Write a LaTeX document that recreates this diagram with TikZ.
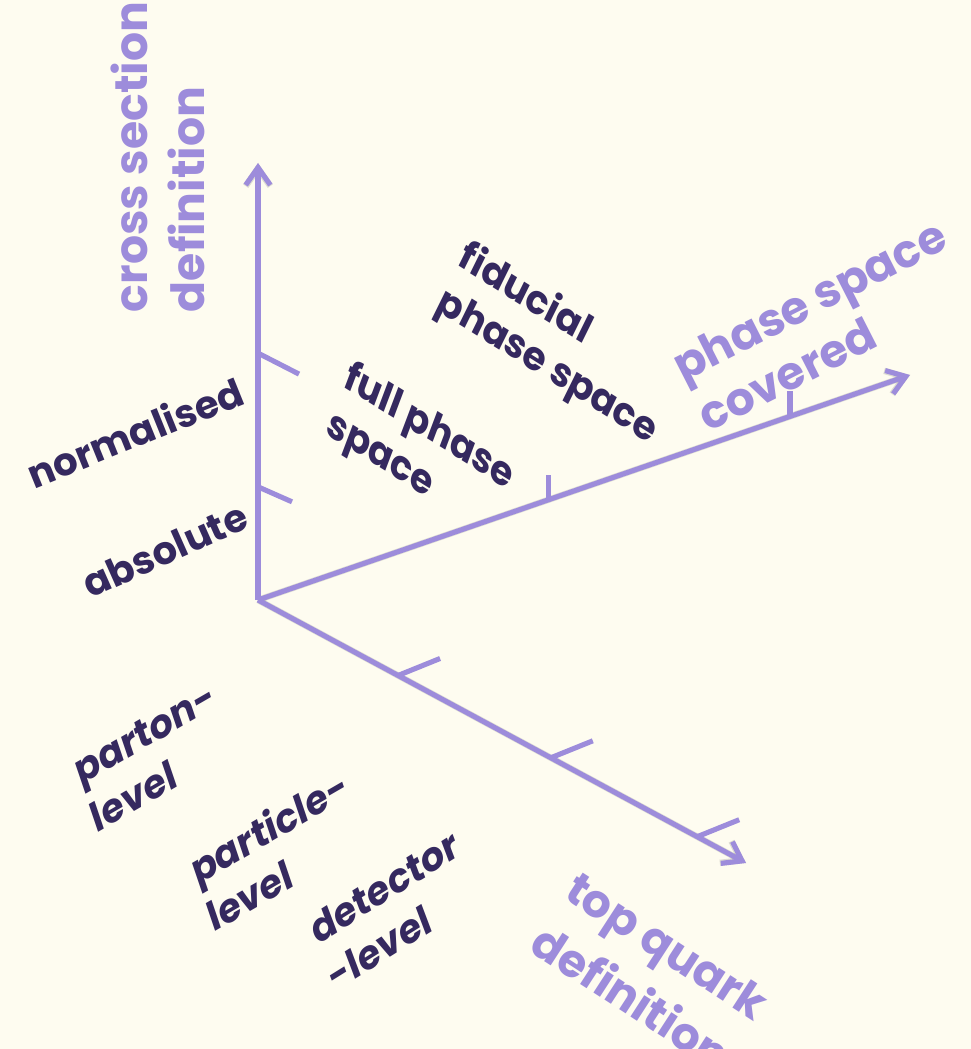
\documentclass[tikz,border=0pt]{standalone}
\usepackage{fontspec}
\setmainfont{Poppins}
\usetikzlibrary{arrows.meta, calc}
\definecolor{lav}{HTML}{9D8CDB}
\definecolor{ink}{HTML}{35295F}
\definecolor{paper}{HTML}{FEFCF0}

\begin{document}
\begin{tikzpicture}[x=0.01cm, y=-0.01cm,
    ax/.style={draw=lav, line width=1.45pt, -{Straight Barb[length=5pt, width=7pt, line width=1.45pt]}},
    shd/.style={draw=black!70, opacity=0.18, line width=1.8pt, -{Straight Barb[length=5pt, width=7pt, line width=1.8pt]}},
    tk/.style={draw=lav, line width=1.45pt},
    lbl/.style={font=\bfseries\fontsize{11}{14}\selectfont, text=ink, align=left, inner sep=0pt},
    ttl/.style={font=\bfseries\fontsize{13}{16}\selectfont, text=lav, align=left, inner sep=0pt}
]
\fill[paper] (0,0) rectangle (971,1049);
\useasboundingbox (0,0) rectangle (971,1049);
\clip (0,0) rectangle (971,1049);

\coordinate (O) at (258,600);
\coordinate (ztop) at (258,163);
\coordinate (xend) at (910,375);
\coordinate (yend) at (746,863);

\begin{scope}[shift={(2,2)}]
\draw[shd] (O) -- (ztop);
\draw[shd] (O) -- (xend);
\draw[shd] (O) -- (yend);
\end{scope}
\draw[ax] (O) -- (ztop);
\draw[ax] (O) -- (xend);
\draw[ax] (O) -- (yend);

\foreach \f/\dx/\dy in {0.259/34/15, 0.565/41/21}
  \draw[tk] ($(O)!\f!(ztop)$) -- ++(\dx,\dy);
\foreach \f in {0.446, 0.816}
  \draw[tk] ($(O)!\f!(xend)$) -- ++(0,-25);
\foreach \f in {0.287, 0.600, 0.900}
  \draw[tk] ($(O)!\f!(yend)$) -- ++(42,-17);

\node[ttl, rotate=90] (xsec) at (158,157) {cross section\\definition};
\node[lbl, rotate=22] (norm) at (135,432) {normalised};
\node[lbl, rotate=24] (abso) at (165,550) {absolute};
\node[lbl, rotate=-32, xslant=-0.2] (full) at (420,452) {full phase\\space};
\node[lbl, rotate=-32, xslant=-0.1] (fid) at (558,345) {fiducial\\phase space};
\node[ttl, rotate=27] (phsp) at (822,325) {phase space\\covered};
\node[lbl, rotate=30, xslant=0.2] (part) at (153,757) {parton-\\level};
\node[lbl, rotate=30, xslant=0.2] (ptcl) at (277,850) {particle-\\level};
\node[lbl, rotate=32, xslant=0.2] (det) at (393,910) {detector\\-level};
\node[ttl, rotate=-33, font=\bfseries\fontsize{13}{18}\selectfont] (topq) at (650,972) {top quark\\definition};
\end{tikzpicture}
\end{document}
